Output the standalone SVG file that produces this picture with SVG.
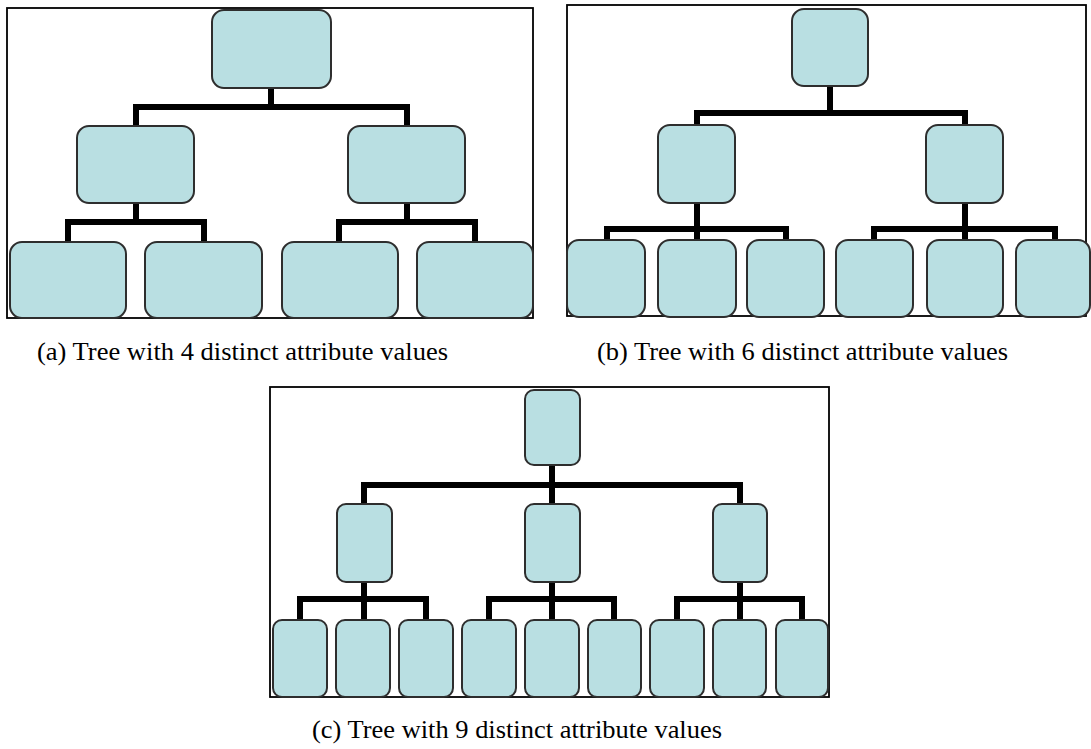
<svg xmlns="http://www.w3.org/2000/svg" width="1091" height="749" viewBox="0 0 1091 749">
<style>
.frame{fill:none;stroke:#000;stroke-width:1.8}
.node{fill:#b9dfe2;stroke:#2e2e2e;stroke-width:2}
.conn{fill:none;stroke:#000;stroke-width:6;stroke-linejoin:miter;stroke-linecap:butt}
.cap{font-family:"Liberation Serif","DejaVu Serif",serif;font-size:26px;fill:#000}
</style>
<rect width="1091" height="749" fill="#fff"/>
<!-- Panel frames -->
<rect class="frame" x="7" y="8" width="526" height="310"/>
<rect class="frame" x="567" y="5" width="519" height="311"/>
<rect class="frame" x="270" y="387" width="559" height="310"/>

<g id="connectors">
  <!-- (a) -->
  <path class="conn" d="M271 88V107M136 128V107H407V128"/>
  <path class="conn" d="M136 203V222M68 244V222H204V244"/>
  <path class="conn" d="M407 203V222M339 244V222H475V244"/>
  <!-- (b) -->
  <path class="conn" d="M830 86V113M697 127V113H965V127"/>
  <path class="conn" d="M697 203V242M607 242V229H786V242"/>
  <path class="conn" d="M965 203V242M874 242V229H1055V242"/>
  <!-- (c) -->
  <path class="conn" d="M552 465V506M364 506V485H740V506"/>
  <path class="conn" d="M364 582V622M300 622V599H426V622"/>
  <path class="conn" d="M552 582V622M489 622V599H614V622"/>
  <path class="conn" d="M740 582V622M677 622V599H802V622"/>
</g>

<!-- (a) nodes -->
<g id="a_root"><rect class="node" x="212" y="10" width="119" height="78" rx="12"/></g>
<g id="a_l1_left"><rect class="node" x="77" y="126" width="117" height="77" rx="12"/></g>
<g id="a_l1_right"><rect class="node" x="348" y="126" width="117" height="77" rx="12"/></g>
<g id="a_leaf1"><rect class="node" x="10" y="242" width="116" height="76" rx="12"/></g>
<g id="a_leaf2"><rect class="node" x="145" y="242" width="117" height="76" rx="12"/></g>
<g id="a_leaf3"><rect class="node" x="282" y="242" width="116" height="76" rx="12"/></g>
<g id="a_leaf4"><rect class="node" x="417" y="242" width="116" height="76" rx="12"/></g>

<!-- (b) nodes -->
<g id="b_root"><rect class="node" x="792" y="9" width="76" height="77" rx="12"/></g>
<g id="b_l1_left"><rect class="node" x="658" y="125" width="77" height="78" rx="12"/></g>
<g id="b_l1_right"><rect class="node" x="926" y="125" width="77" height="78" rx="12"/></g>
<g id="b_leaf1"><rect class="node" x="567" y="240" width="78" height="77" rx="12"/></g>
<g id="b_leaf2"><rect class="node" x="658" y="240" width="78" height="77" rx="12"/></g>
<g id="b_leaf3"><rect class="node" x="747" y="240" width="77" height="77" rx="12"/></g>
<g id="b_leaf4"><rect class="node" x="836" y="240" width="77" height="77" rx="12"/></g>
<g id="b_leaf5"><rect class="node" x="927" y="240" width="76" height="77" rx="12"/></g>
<g id="b_leaf6"><rect class="node" x="1016" y="240" width="74" height="77" rx="12"/></g>

<!-- (c) nodes -->
<g id="c_root"><rect class="node" x="525" y="390" width="55" height="75" rx="9"/></g>
<g id="c_l1_1"><rect class="node" x="337" y="504" width="55" height="78" rx="9"/></g>
<g id="c_l1_2"><rect class="node" x="525" y="504" width="55" height="78" rx="9"/></g>
<g id="c_l1_3"><rect class="node" x="713" y="504" width="54" height="78" rx="9"/></g>
<g id="c_leaf1"><rect class="node" x="273" y="620" width="54" height="77" rx="9"/></g>
<g id="c_leaf2"><rect class="node" x="336" y="620" width="54" height="77" rx="9"/></g>
<g id="c_leaf3"><rect class="node" x="399" y="620" width="54" height="77" rx="9"/></g>
<g id="c_leaf4"><rect class="node" x="462" y="620" width="54" height="77" rx="9"/></g>
<g id="c_leaf5"><rect class="node" x="525" y="620" width="54" height="77" rx="9"/></g>
<g id="c_leaf6"><rect class="node" x="588" y="620" width="53" height="77" rx="9"/></g>
<g id="c_leaf7"><rect class="node" x="650" y="620" width="54" height="77" rx="9"/></g>
<g id="c_leaf8"><rect class="node" x="713" y="620" width="53" height="77" rx="9"/></g>
<g id="c_leaf9"><rect class="node" x="776" y="620" width="52" height="77" rx="9"/></g>

<!-- captions -->
<text class="cap" x="37" y="360" textLength="411" lengthAdjust="spacingAndGlyphs">(a) Tree with 4 distinct attribute values</text>
<text class="cap" x="597" y="360" textLength="411" lengthAdjust="spacingAndGlyphs">(b) Tree with 6 distinct attribute values</text>
<text class="cap" x="312" y="738" textLength="410" lengthAdjust="spacingAndGlyphs">(c) Tree with 9 distinct attribute values</text>
</svg>
